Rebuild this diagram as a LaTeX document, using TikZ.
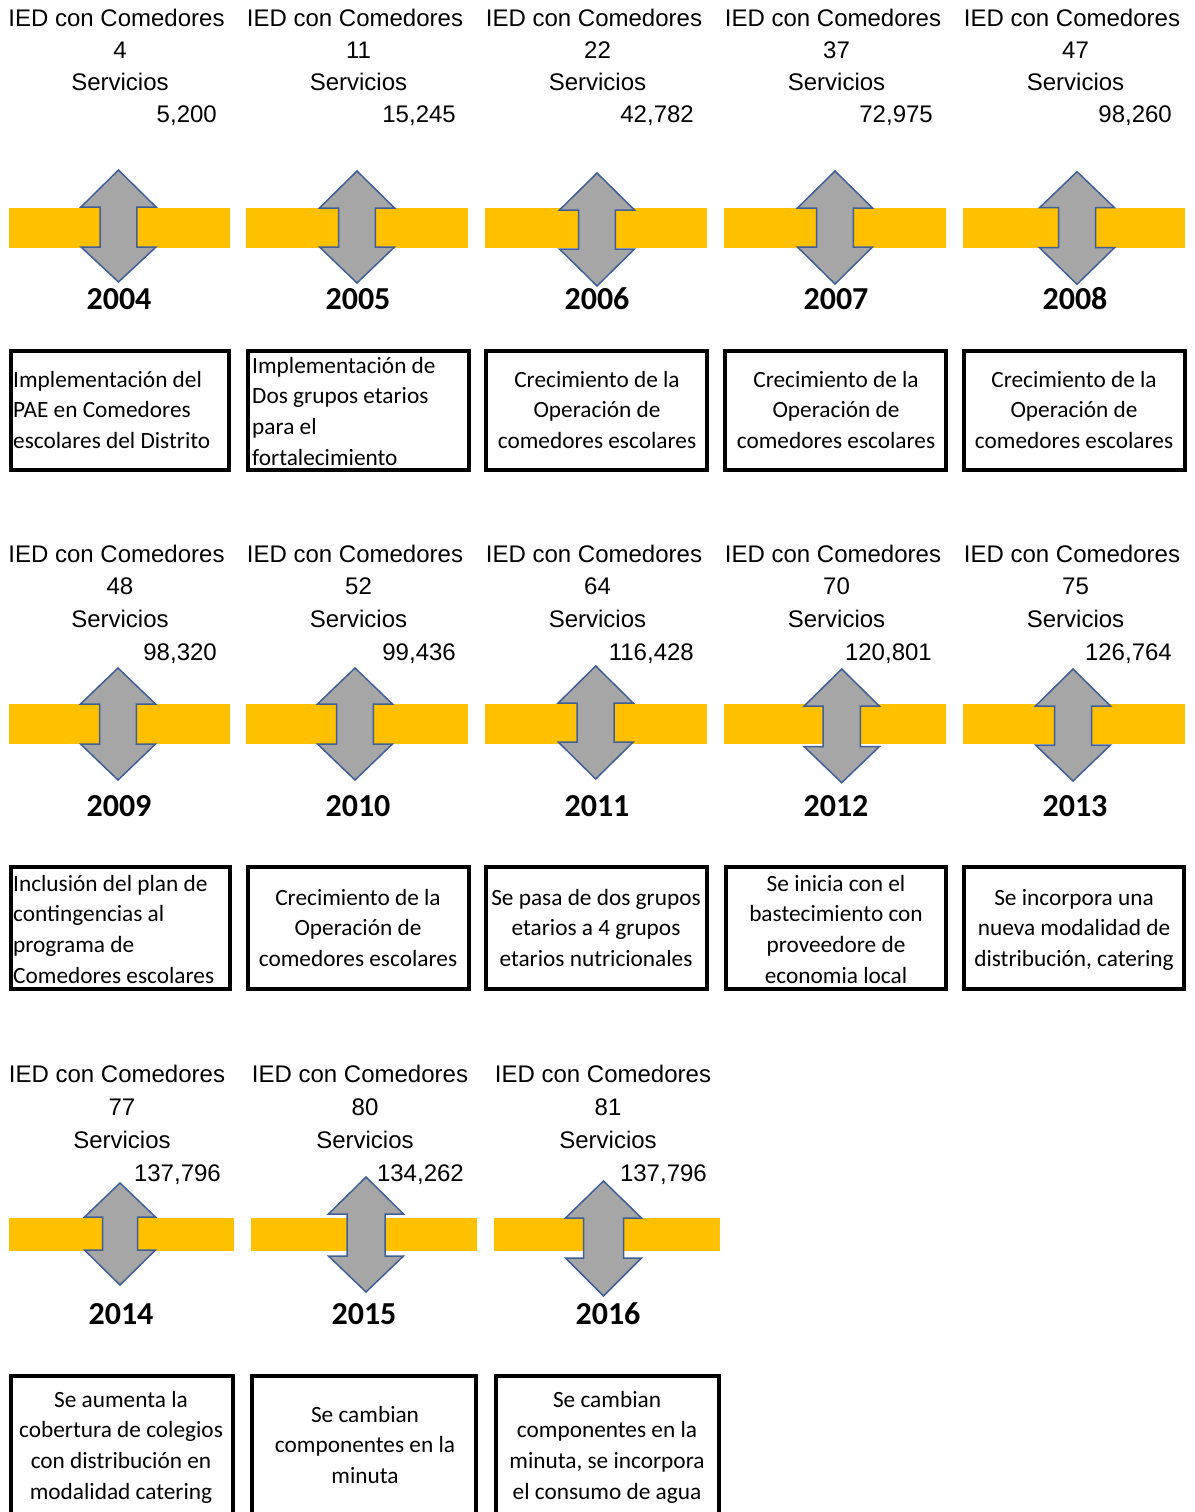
\documentclass[tikz,border=0pt]{standalone}
\usepackage{fontspec}
\setmainfont{Liberation Sans}
\newfontfamily\hdrfont{Liberation Sans}
\newfontfamily\boxfont{Carlito}
\newfontfamily\yearfont{Carlito}

\definecolor{bandgold}{HTML}{FFC000}
\definecolor{updowngray}{HTML}{A6A6A6}
\definecolor{updownblue}{HTML}{3F5F96}

\tikzset{
  hdr/.style={font=\hdrfont\fontsize{24}{28}\selectfont, inner sep=0pt, anchor=base},
  val/.style={hdr, anchor=base east},
  yr/.style={font=\yearfont\bfseries\fontsize{32}{36}\selectfont, inner sep=0pt, anchor=base},
  txt/.style={font=\boxfont\fontsize{23.3}{27}\selectfont, inner sep=0pt, anchor=base},
  txtl/.style={txt, anchor=base west},
  eventbox/.style={draw=black, line width=4pt},
  bandfill/.style={fill=bandgold},
  updown/.style={fill=updowngray, draw=updownblue, line width=1.5pt, line join=miter}
}

% header block: name, cx, first baseline, line spacing, right offset of value, count, value
\newcommand\iedshift{-3.5}
\newcommand\yearheader[7]{%
  \node[hdr] (#1-ied) at (#2+\iedshift,#3) {IED con Comedores};
  \node[hdr] (#1-n)   at (#2,#3+#4) {#6};
  \node[hdr] (#1-s)   at (#2,#3+2*#4) {Servicios};
  \node[val] (#1-v)   at (#2+#5,#3+3*#4) {#7};
}

% double arrow: cx, top tip, upper head base, lower head base, bottom tip, head half width, shaft half width
\newcommand\twowayarrow[7]{%
  \draw[updown] (#1,#2) -- (#1+#6,#3) -- (#1+#7,#3) -- (#1+#7,#4) -- (#1+#6,#4)
    -- (#1,#5) -- (#1-#6,#4) -- (#1-#7,#4) -- (#1-#7,#3) -- (#1-#6,#3) -- cycle;
}

% lines of a description: name, x, first baseline, style, list of lines
\newcommand\desclines[5]{%
  \foreach \t [count=\i] in {#5}
    \node[#4] (#1-\i) at (#2,#3+30.8*\i-30.8) {\t};
}

\begin{document}
\begin{tikzpicture}[x=1pt,y=-1pt]
\useasboundingbox (0,0) rectangle (1194,1512);
\clip (0,0) rectangle (1194,1512);
\fill[white] (0,0) rectangle (1194,1512);

% ---------- 2004 - 2008 ----------
\yearheader{h04}{120}{27}{31.9}{97}{4}{5,200}
\yearheader{h05}{358.5}{27}{31.9}{97.5}{11}{15,245}
\yearheader{h06}{597.5}{27}{31.9}{96.5}{22}{42,782}
\yearheader{h07}{836.5}{27}{31.9}{96.5}{37}{72,975}
\yearheader{h08}{1075.5}{27}{31.9}{96.5}{47}{98,260}

\fill[bandfill] (9,208) rectangle (230,248);
\fill[bandfill] (246,208) rectangle (468,248);
\fill[bandfill] (485,208) rectangle (707,248);
\fill[bandfill] (724,208) rectangle (946,248);
\fill[bandfill] (963,208) rectangle (1185,248);

\twowayarrow{118.5}{170}{207}{247}{282}{37.5}{18.3}
\twowayarrow{357}{171}{208}{247}{283}{37.5}{18.3}
\twowayarrow{597}{173}{210}{249}{286}{37.5}{18.3}
\twowayarrow{835}{171}{208}{247}{284}{37.5}{18.3}
\twowayarrow{1077}{171.7}{207.7}{247.7}{284.3}{37.5}{18.5}

\node[yr] (y04) at (119,309) {2004};
\node[yr] (y05) at (358,309) {2005};
\node[yr] (y06) at (597,309) {2006};
\node[yr] (y07) at (836,309) {2007};
\node[yr] (y08) at (1075,309) {2008};

\draw[eventbox] (11,350.5) rectangle (229,470);
\draw[eventbox] (248,350.5) rectangle (469,470);
\draw[eventbox] (486,350.5) rectangle (706.5,470);
\draw[eventbox] (725,350.5) rectangle (945.5,470);
\draw[eventbox] (964,350.5) rectangle (1184.5,470);

\desclines{d04}{13}{387}{txtl}{Implementación del, PAE en Comedores, escolares del Distrito}
\desclines{d05}{252}{373}{txtl}{Implementación de, Dos grupos etarios, para el, fortalecimiento}
\desclines{d06}{597}{387}{txt}{Crecimiento de la, Operación de, comedores escolares}
\desclines{d07}{836}{387}{txt}{Crecimiento de la, Operación de, comedores escolares}
\desclines{d08}{1074}{387}{txt}{Crecimiento de la, Operación de, comedores escolares}

% ---------- 2009 - 2013 ----------
\yearheader{h09}{120}{562}{32.7}{97}{48}{98,320}
\yearheader{h10}{358.5}{562}{32.7}{97.5}{52}{99,436}
\yearheader{h11}{597.5}{562}{32.7}{96.5}{64}{116,428}
\yearheader{h12}{836.5}{562}{32.7}{95.5}{70}{120,801}
\yearheader{h13}{1075.5}{562}{32.7}{96.5}{75}{126,764}

\fill[bandfill] (9,704) rectangle (230,744);
\fill[bandfill] (246,704) rectangle (468,744);
\fill[bandfill] (485,704) rectangle (707,744);
\fill[bandfill] (724,704) rectangle (946,744);
\fill[bandfill] (963,704) rectangle (1185,744);

\twowayarrow{118}{668}{704}{744}{780}{37.5}{18.3}
\twowayarrow{355}{668}{704}{744}{780}{37.5}{18.3}
\twowayarrow{595.7}{666}{703}{742}{779}{37.5}{18.5}
\twowayarrow{841.7}{669}{706}{746.7}{782.7}{37.5}{18.7}
\twowayarrow{1073}{669}{706}{745}{781}{37.5}{18.5}

\node[yr] (y09) at (119,816) {2009};
\node[yr] (y10) at (358,816) {2010};
\node[yr] (y11) at (597,816) {2011};
\node[yr] (y12) at (836,816) {2012};
\node[yr] (y13) at (1075,816) {2013};

\draw[eventbox] (11,867) rectangle (229.5,988.5);
\draw[eventbox] (248,867) rectangle (469,988.5);
\draw[eventbox] (486,867) rectangle (706.5,988.5);
\draw[eventbox] (725.5,867) rectangle (945.5,988.5);
\draw[eventbox] (963.5,867) rectangle (1184,988.5);

\desclines{d09}{13}{891}{txtl}{Inclusión del plan de, contingencias al, programa de, Comedores escolares}
\desclines{d10}{358}{905}{txt}{Crecimiento de la, Operación de, comedores escolares}
\desclines{d11}{596}{905}{txt}{Se pasa de dos grupos, etarios a 4 grupos, etarios nutricionales}
\desclines{d12}{836}{891}{txt}{Se inicia con el, bastecimiento con, proveedore de, economia local}
\desclines{d13}{1074}{905}{txt}{Se incorpora una, nueva modalidad de, {distribución, catering}}

% ---------- 2014 - 2016 ----------
\renewcommand\iedshift{-5}
\yearheader{h14}{122}{1082}{33}{99}{77}{137,796}
\yearheader{h15}{365}{1082}{33}{99}{80}{134,262}
\yearheader{h16}{608}{1082}{33}{99}{81}{137,796}

\fill[bandfill] (9,1218) rectangle (234,1251);
\fill[bandfill] (251,1218) rectangle (477,1251);
\fill[bandfill] (494,1218) rectangle (720,1251);

\twowayarrow{120}{1183}{1217}{1250}{1285}{35.5}{17.5}
\twowayarrow{366}{1177}{1214}{1256}{1292}{37.5}{19}
\twowayarrow{603.5}{1181}{1218}{1258}{1296}{38}{20}

\node[yr] (y14) at (121,1324) {2014};
\node[yr] (y15) at (364,1324) {2015};
\node[yr] (y16) at (608,1324) {2016};

\draw[eventbox] (11,1376) rectangle (233,1530);
\draw[eventbox] (252,1376) rectangle (476,1530);
\draw[eventbox] (496,1376) rectangle (719,1530);

\desclines{d14}{121}{1407}{txt}{Se aumenta la, cobertura de colegios, con distribución en, modalidad catering}
\desclines{d15}{365}{1422}{txt}{Se cambian, componentes en la, minuta}
\desclines{d16}{607}{1407}{txt}{Se cambian, componentes en la, {minuta, se incorpora}, el consumo de agua}
\end{tikzpicture}
\end{document}
